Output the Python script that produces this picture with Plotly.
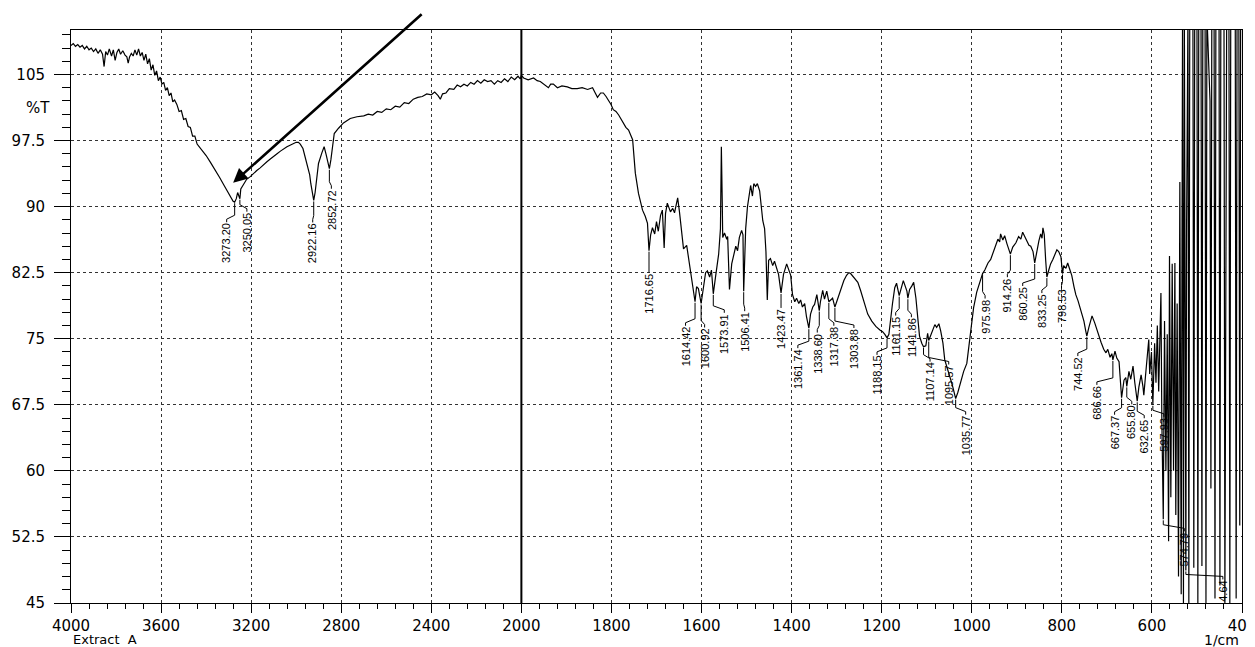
import numpy as np
import plotly.graph_objects as go

# ---------------- data ----------------
wavenumber = [
    4000, 3990, 3980, 3970, 3960, 3950, 3940, 3930, 3920, 3910, 3900, 3890, 3880, 3870, 3860,
    3853, 3846, 3838, 3830, 3820, 3812, 3804, 3796, 3788, 3780, 3770, 3760, 3752, 3746, 3740,
    3732, 3724, 3716, 3708, 3700, 3692, 3684, 3676, 3668, 3660, 3652, 3644, 3636, 3628, 3620,
    3612, 3604, 3596, 3588, 3580, 3572, 3564, 3556, 3548, 3540, 3530, 3520, 3510, 3500, 3490,
    3480, 3470, 3460, 3450, 3440, 3420, 3400, 3380, 3360, 3340, 3320, 3300, 3290, 3280, 3273.2,
    3266, 3260, 3255, 3250.05, 3246, 3241, 3230, 3220, 3204, 3190, 3175, 3160, 3145, 3130, 3115,
    3102, 3085, 3070, 3055, 3041, 3025, 3010, 3000, 2990, 2982, 2970, 2960, 2947, 2940, 2935,
    2928, 2922.16, 2916, 2911, 2901, 2886, 2876, 2867, 2860, 2852.72, 2846, 2841, 2831, 2812, 2790,
    2760, 2730, 2700, 2680, 2660, 2640, 2620, 2600, 2580, 2560, 2540, 2520, 2500, 2480, 2460,
    2440, 2420, 2400, 2385, 2370, 2360, 2350, 2335, 2320, 2300, 2285, 2270, 2255, 2240, 2225,
    2210, 2195, 2180, 2165, 2150, 2135, 2120, 2105, 2090, 2075, 2060, 2045, 2030, 2015, 2005,
    2000,
    1995, 1985, 1973, 1965, 1958, 1950, 1940, 1935, 1929, 1920, 1910, 1898, 1888, 1876, 1865,
    1853, 1842, 1836, 1831, 1824, 1818, 1812, 1807, 1801, 1796, 1790, 1784, 1778, 1773, 1768,
    1762, 1757, 1753, 1747, 1740, 1731, 1725, 1720, 1716.65, 1713, 1709, 1704, 1700, 1696, 1691,
    1687, 1683, 1680, 1676, 1669, 1664, 1660, 1653, 1649, 1644, 1640, 1633, 1629, 1622, 1614.42,
    1611, 1607, 1600.92, 1596, 1591, 1587, 1582, 1578, 1573.91, 1569, 1562, 1558, 1556, 1554, 1553,
    1549, 1544, 1542, 1538, 1533, 1529, 1524, 1520, 1516, 1511, 1508, 1506.41, 1502, 1498, 1491,
    1487, 1484, 1480, 1476, 1471, 1467, 1464, 1460, 1457, 1454, 1451, 1447, 1442, 1438, 1433,
    1429, 1423.47, 1418, 1411, 1407, 1402, 1398, 1393, 1389, 1384, 1380, 1376, 1371, 1367, 1361.74,
    1358, 1353, 1349, 1344, 1338.6, 1336, 1331, 1327, 1322, 1317.38, 1313, 1309, 1303.88, 1298, 1291,
    1284, 1278, 1273, 1269, 1262, 1253, 1247, 1240, 1231, 1222, 1213, 1204, 1198, 1193, 1188.15,
    1184, 1180, 1176, 1171, 1167, 1161.15, 1157, 1152, 1148, 1144, 1141.86, 1138, 1133, 1129, 1124,
    1120, 1116, 1111, 1107.14, 1102, 1098, 1095.57, 1091, 1087, 1082, 1078, 1073, 1069, 1064, 1060,
    1056, 1051, 1047, 1042, 1035.77, 1031, 1024, 1018, 1011, 1007, 1002, 996, 989, 982, 975.98,
    971, 964, 958, 951, 947, 942, 938, 936, 931, 927, 922, 918, 914.26, 909, 902,
    896, 891, 887, 882, 878, 873, 869, 864, 860.25, 856, 851, 847, 844, 842, 839,
    836, 833.25, 829, 825, 820, 816, 811, 807, 802, 798.53, 796, 791, 787, 782, 778,
    773, 769, 764, 760, 756, 751, 747, 744.52, 740, 733, 727, 720, 713, 707, 702,
    698, 693, 689, 686.66, 682, 678, 673, 667.37, 662, 658, 655.8, 651, 647, 642, 638,
    632.65, 629, 624, 620, 618, 613, 609, 607,
    605, 601, 597.93, 594, 591, 588, 585, 582, 580, 578, 574.79, 572, 569, 566, 563,
    561, 558, 555, 552, 549, 547, 544, 541, 538, 535,
    532, 530, 528, 524.64, 523, 520, 518, 516, 509, 507, 505, 500, 498, 496, 491,
    489, 487, 482, 480, 478, 471, 469, 467, 462, 460, 458, 451, 449, 447, 440,
    438, 436, 434, 429, 427, 425, 415, 413, 411, 407, 405, 403, 400,
]

transmittance = [
    108.3, 108.5, 108.2, 108.4, 108.1, 108.3, 107.9, 108.2, 107.8, 108.0, 107.6, 107.9, 107.4, 107.8, 107.3,
    105.9, 107.6, 107.2, 107.9, 107.1, 107.8, 106.6, 107.5, 107.9, 107.3, 107.7, 107.2, 107.0, 106.3, 107.0,
    107.4, 107.1, 107.8, 107.2, 107.9, 107.1, 107.5, 106.6, 107.3, 106.2, 106.8, 105.5, 106.1, 104.9, 105.4,
    104.3, 104.7, 103.9, 104.1, 103.2, 103.5, 102.6, 102.9, 101.9, 102.1, 101.6, 100.8, 100.9, 99.9, 100.0,
    99.1, 99.0, 98.0, 98.0, 97.1, 96.5, 95.8, 95.0, 94.2, 93.3, 92.4, 91.5, 91.0, 90.6, 90.5,
    90.9, 91.6, 91.1, 90.9, 92.0, 92.2, 92.7, 93.1, 93.4, 93.8, 94.1, 94.4, 94.8, 95.1, 95.4,
    95.7, 96.0, 96.3, 96.6, 96.8, 97.0, 97.2, 97.3, 97.3, 97.1, 96.6, 95.7, 94.5, 93.6, 92.6,
    91.5, 90.7, 91.6, 92.6, 94.9, 96.1, 96.8, 95.9, 95.2, 94.3, 95.3, 96.2, 98.3, 98.9, 99.5,
    100.0, 100.2, 100.3, 100.5, 100.4, 100.8, 100.7, 101.1, 101.0, 101.4, 101.3, 101.8, 101.7, 102.2, 102.4,
    102.5, 102.8, 102.7, 103.0, 102.6, 102.2, 102.8, 102.9, 103.4, 103.3, 103.8, 103.6, 103.9, 103.7, 104.1,
    103.9, 104.3, 104.0, 104.4, 104.2, 104.3, 103.9, 104.3, 104.1, 104.5, 104.2, 104.7, 104.4, 104.8, 104.5,
    104.9,
    104.6, 104.4, 104.6, 104.3, 104.2, 103.9, 103.5, 103.9, 103.9, 103.5, 103.7, 103.6, 103.4, 103.4, 103.5,
    103.3, 103.5, 102.9, 102.4, 102.9, 102.9, 102.5, 102.1, 101.6, 101.0, 100.8, 100.4, 99.9, 99.5, 99.0,
    98.7, 98.0, 97.6, 93.8, 91.5, 89.6, 88.9, 88.1, 85.0, 86.8, 87.6, 86.9, 88.3, 87.2, 89.0,
    89.6, 85.3, 89.2, 90.4, 89.4, 89.8, 89.3, 91.0, 89.4, 87.4, 85.2, 85.6, 84.3, 82.0, 79.2,
    80.9, 80.7, 79.0, 81.0, 82.5, 82.7, 82.0, 82.8, 80.1, 82.0, 84.6, 87.5, 96.8, 90.5, 86.5,
    87.0, 86.3, 86.6, 80.6, 83.5, 84.5, 85.5, 85.0, 86.5, 87.3, 86.8, 80.4, 87.5, 90.0, 92.4,
    91.2, 92.6, 92.3, 92.6, 91.8, 89.8, 88.4, 87.5, 84.9, 79.4, 83.9, 84.1, 83.3, 83.8, 82.8,
    82.3, 80.2, 82.3, 83.5, 83.0, 82.2, 80.0, 79.2, 79.6, 79.0, 79.4, 78.6, 79.0, 77.5, 76.2,
    77.8, 78.6, 78.9, 80.0, 78.2, 79.2, 80.5, 79.5, 80.4, 79.2, 79.4, 79.6, 78.6, 79.5, 80.6,
    81.6, 82.2, 82.5, 82.4, 82.0, 81.4, 80.5, 79.3, 77.8, 77.0, 76.4, 76.0, 75.8, 75.5, 75.1,
    75.5, 77.4, 79.0, 80.8, 81.3, 79.9, 80.7, 81.6, 81.0, 80.4, 79.6, 80.6, 81.0, 81.4, 79.6,
    77.5, 75.3, 74.5, 74.1, 74.2, 75.6, 74.8, 75.4, 76.0, 76.6, 76.3, 76.7, 75.9, 74.5, 72.6,
    72.0, 71.0, 70.4, 69.5, 68.2, 68.9, 70.1, 71.3, 72.2, 74.0, 76.0, 78.5, 80.3, 81.4, 82.4,
    82.8, 83.6, 84.0, 85.0, 85.7, 86.3, 86.0, 86.9, 86.2, 86.7, 85.8, 85.2, 84.6, 85.4, 85.9,
    86.6, 86.3, 87.1, 86.6, 86.2, 85.6, 85.5, 84.9, 83.6, 84.9, 86.1, 86.9, 86.4, 87.6, 86.8,
    84.0, 82.0, 82.8, 83.5, 84.0, 84.6, 85.1, 84.9, 84.3, 82.4, 83.3, 83.0, 83.6, 82.8, 82.2,
    80.9, 80.0, 79.3, 78.6, 77.7, 77.0, 75.9, 75.3, 76.3, 77.6, 76.8, 75.6, 74.6, 73.8, 73.4,
    73.8, 72.9, 73.3, 72.6, 73.6, 72.8, 72.4, 68.3, 70.3, 70.6, 69.6, 71.3, 70.4, 71.9, 70.0,
    67.9, 69.5, 70.9, 69.6, 68.6, 71.5, 73.5, 74.9,
    71.0, 73.5, 67.5, 74.5, 70.0, 76.5, 69.0, 77.0, 80.2, 66.0, 54.5, 77.0, 60.0, 75.5, 52.0,
    84.4, 57.0, 83.5, 60.0, 83.6, 55.0, 79.0, 48.0, 92.8, 46.0,
    112.0, 45.0, 112.0, 48.7, 87.9, 112.0, 45.0, 112.0, 112.0, 49.0, 112.0, 112.0, 45.0, 112.0, 112.0,
    49.2, 112.0, 112.0, 45.0, 112.0, 102.0, 58.0, 112.0, 112.0, 45.5, 112.0, 112.0, 47.0, 112.0, 112.0,
    45.0, 86.0, 112.0, 112.0, 45.0, 112.0, 112.0, 45.5, 112.0, 112.0, 53.8, 112.0, 112.0,
]

peak_wavenumber = [
    3273.20, 3250.05, 2922.16, 2852.72, 1716.65, 1614.42, 1600.92, 1573.91, 1506.41, 1423.47,
    1361.74, 1338.60, 1317.38, 1303.88, 1188.15, 1161.15, 1141.86, 1107.14, 1095.57, 1035.77,
    975.98, 914.26, 860.25, 833.25, 798.53, 744.52, 686.66, 667.37, 655.80, 632.65,
    597.93, 574.79, 524.64,
]
peak_text = [
    "3273.20", "3250.05", "2922.16", "2852.72", "1716.65", "1614.42", "1600.92", "1573.91", "1506.41", "1423.47",
    "1361.74", "1338.60", "1317.38", "1303.88", "1188.15", "1161.15", "1141.86", "1107.14", "1095.57", "1035.77",
    "975.98", "914.26", "860.25", "833.25", "798.53", "744.52", "686.66", "667.37", "655.80", "632.65",
    "597.93", "574.79", "4.64",
]

x_tick_values = [4000, 3600, 3200, 2800, 2400, 2000, 1800, 1600, 1400, 1200, 1000, 800, 600, 400]
y_tick_values = [45, 52.5, 60, 67.5, 75, 82.5, 90, 97.5, 105]
y_tick_text = ["45", "52.5", "60", "67.5", "75", "82.5", "90", "97.5", "105"]

# ---------------- layout helpers (label placement, px) ----------------
label_dx = [-8, 7, -1, 2, 0, -9.5, 3.5, 11, 1, 0,
            -11, -2, 5, 19, -10, -3.5, 3.5, 6.5, 20, 10,
            2.5, -3, -12, -5, -1, -9, -16, -7, 5, 7,
            11, 21, 37]
label_drop = [20, 13, 22, 20, 22, 24, 24, 19, 20, 15,
              20, 22, 24, 21, 17, 20, 19, 15, 24, 16,
              25, 23, 23, 16, 15, 20, 25, 17, 18, 17,
              12, 12, 9]

# the page body has an 8 px margin, so the figure is offset by 8 px
W, H = 1255, 647
ML, MR, MT, MB = 63, 21, 22, 52
Y_MIN, Y_MAX = 45, 110.05
PX_PER_U = (W - ML - MR) / 13.0
PX_PER_T = (H - MT - MB) / (Y_MAX - Y_MIN)


def to_u(w):
    w = np.asarray(w, dtype=float)
    return np.where(w >= 2000, (4000 - w) / 400.0, 5 + (2000 - w) / 200.0)


u_spec = to_u(wavenumber)
t_spec = np.asarray(transmittance, dtype=float)
u_peak = to_u(peak_wavenumber)
t_peak = np.interp(u_peak, u_spec, t_spec)

fig = go.Figure()

# spectrum
fig.add_trace(go.Scatter(x=u_spec, y=t_spec, mode="lines",
                         line=dict(color="black", width=1.2), hoverinfo="skip"))

# leader lines
lx, ly = [], []
for up, tp, dx, dr in zip(u_peak, t_peak, label_dx, label_drop):
    bend = dr - 7 if dr > 12 else dr * 0.45
    pts = [(0, 1), (0, bend), (dx, dr - 3), (dx, dr)]
    for px, py in pts:
        lx.append(up + px / PX_PER_U)
        ly.append(tp - py / PX_PER_T)
    lx.append(None)
    ly.append(None)
fig.add_trace(go.Scatter(x=lx, y=ly, mode="lines",
                         line=dict(color="black", width=1), hoverinfo="skip"))

annotations = []
for up, tp, dx, dr, txt in zip(u_peak, t_peak, label_dx, label_drop, peak_text):
    annotations.append(dict(
        x=up + dx / PX_PER_U, y=tp - dr / PX_PER_T, xref="x", yref="y",
        text=txt, textangle=-90, xanchor="center", yanchor="top",
        showarrow=False, borderpad=0,
        font=dict(family="Liberation Sans, Arial, sans-serif", size=11, color="black"),
    ))

# big arrow pointing at the O-H band
annotations.append(dict(
    x=float(to_u(3280)), y=92.7, xref="x", yref="y", text="",
    showarrow=True, ax=190, ay=-170, arrowhead=2, arrowsize=1.1,
    arrowwidth=2.6, arrowcolor="black",
))

axis_font = dict(family="DejaVu Sans, Liberation Sans, sans-serif", size=15, color="black")
unit_font = dict(family="DejaVu Sans, Liberation Sans, sans-serif", size=13, color="black")
annotations.append(dict(x=-0.028, y=101.2, xref="paper", yref="y", text="%T",
                        showarrow=False, xanchor="center", yanchor="middle", font=axis_font))
annotations.append(dict(x=0.0, y=0, xref="paper", yref="paper", text="Extract\u00a0\u00a0A",
                        showarrow=False, xanchor="left", yanchor="top", yshift=-28, xshift=1,
                        borderpad=0, font=unit_font))
annotations.append(dict(x=0.9985, y=0, xref="paper", yref="paper", text="1/cm",
                        showarrow=False, xanchor="right", yanchor="top", yshift=-28,
                        borderpad=0, font=dict(unit_font, size=14)))

shapes = [dict(type="line", xref="x", yref="paper", x0=5, x1=5, y0=0, y1=1,
               line=dict(color="black", width=2))]

fig.update_layout(
    width=W, height=H,
    margin=dict(l=ML, r=MR, t=MT, b=MB, autoexpand=False),
    paper_bgcolor="white", plot_bgcolor="white",
    showlegend=False,
    annotations=annotations,
    shapes=shapes,
    xaxis=dict(
        range=[0, 13], tickmode="array", tickvals=list(range(14)),
        ticktext=[str(v) for v in x_tick_values],
        ticks="outside", ticklen=9, tickwidth=1, tickcolor="black",
        showline=True, linecolor="black", linewidth=1, mirror=True,
        showgrid=True, gridcolor="#333333", griddash="dot", gridwidth=1,
        zeroline=False, tickfont=axis_font,
        minor=dict(tickmode="linear", tick0=0, dtick=0.2, ticks="outside",
                   ticklen=5, tickcolor="black", showgrid=False),
    ),
    yaxis=dict(
        range=[Y_MIN, Y_MAX], tickmode="array", tickvals=y_tick_values, ticktext=y_tick_text,
        ticks="outside", ticklen=16, tickwidth=1, tickcolor="black",
        showline=True, linecolor="black", linewidth=1, mirror=True,
        showgrid=True, gridcolor="#333333", griddash="dot", gridwidth=1,
        zeroline=False, tickfont=axis_font, ticklabelstandoff=6,
        minor=dict(tickmode="linear", tick0=45, dtick=1.5, ticks="outside",
                   ticklen=8, tickcolor="black", showgrid=False),
    ),
)

fig.write_html("out.html")
